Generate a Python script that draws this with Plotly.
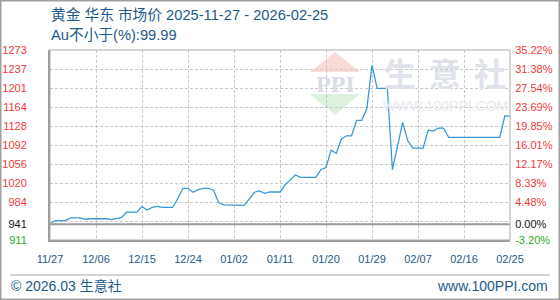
import plotly.graph_objects as go

# ---------------- data ----------------
dates = ["2025-11-27", "2025-11-28", "2025-11-30", "2025-12-01", "2025-12-03", "2025-12-04",
         "2025-12-05", "2025-12-08", "2025-12-09", "2025-12-10", "2025-12-11", "2025-12-12",
         "2025-12-14", "2025-12-15", "2025-12-16", "2025-12-17", "2025-12-18", "2025-12-19",
         "2025-12-21", "2025-12-22", "2025-12-23", "2025-12-24", "2025-12-25", "2025-12-26",
         "2025-12-27", "2025-12-28", "2025-12-29", "2025-12-30", "2025-12-31", "2026-01-04",
         "2026-01-05", "2026-01-06", "2026-01-07", "2026-01-08", "2026-01-09", "2026-01-11",
         "2026-01-12", "2026-01-13", "2026-01-14", "2026-01-15", "2026-01-18", "2026-01-19",
         "2026-01-20", "2026-01-21", "2026-01-22", "2026-01-23", "2026-01-24", "2026-01-25",
         "2026-01-26", "2026-01-27", "2026-01-28", "2026-01-29", "2026-01-30", "2026-02-01",
         "2026-02-02", "2026-02-03", "2026-02-04", "2026-02-05", "2026-02-06", "2026-02-08",
         "2026-02-09", "2026-02-10", "2026-02-11", "2026-02-12", "2026-02-13", "2026-02-23",
         "2026-02-24", "2026-02-25"]
prices = [941.4, 948, 948, 953, 953, 950.5,
          951.5, 951.5, 950, 951.5, 954, 964,
          964, 974.5, 968, 973, 975, 973,
          973, 990, 1009.5, 1009.5, 1002, 1007,
          1009.5, 1009.5, 1006, 982, 978, 977,
          990, 1002, 1004.5, 1000, 1002.5, 1002.5,
          1016, 1025, 1035, 1030.5, 1030.5, 1045,
          1049, 1082, 1076, 1103, 1109.5, 1109.5,
          1139, 1139, 1162, 1244, 1200, 1200,
          1045, 1090, 1135, 1100, 1086, 1086,
          1120.5, 1118.5, 1124, 1124, 1106.5, 1106.5,
          1148, 1146.5]

x_tick_vals = ["2025-11-27", "2025-12-06", "2025-12-15", "2025-12-24", "2026-01-02", "2026-01-11",
               "2026-01-20", "2026-01-29", "2026-02-07", "2026-02-16", "2026-02-25"]
x_tick_text = ["11/27", "12/06", "12/15", "12/24", "01/02", "01/11",
               "01/20", "01/29", "02/07", "02/16", "02/25"]

y_tick_vals = [911, 941, 983.4, 1019.6, 1055.8, 1092, 1128.2, 1164.4, 1200.6, 1236.8, 1273]
y_tick_text = ["911", "941", "984", "1020", "1056", "1092", "1128", "1164", "1201", "1237", "1273"]
pct_tick_text = ["-3.20%", "0.00%", "4.48%", "8.33%", "12.17%", "16.01%", "19.85%",
                 "23.69%", "27.54%", "31.38%", "35.22%"]
y_grid_vals = [947.2, 983.4, 1019.6, 1055.8, 1092, 1128.2, 1164.4, 1200.6, 1236.8]
y_range = [911, 1273]
base_value = 941

title_text = "黄金 华东 市场价 2025-11-27 - 2026-02-25"
subtitle_text = "Au不小于(%):99.99"

# ---------------- styles ----------------
RED = "#f03a3a"
GREEN = "#2eaa2e"
NAVY = "#1d5a8a"
GRID = "#c9c9c9"
AXIS = "#9a9a9a"
TICKFONT = "Liberation Sans, Arial, sans-serif"
CJK = "Liberation Sans, Noto Sans CJK SC, sans-serif"


def color_label(t, v):
    if v == base_value:
        return f"<span style='color:#111111'>{t}</span>"
    if v < base_value:
        return f"<span style='color:{GREEN}'>{t}</span>"
    return t


left_text = [color_label(t, v) for t, v in zip(y_tick_text, y_tick_vals)]
right_text = [color_label(t, v) for t, v in zip(pct_tick_text, y_tick_vals)]

fig = go.Figure()
fig.add_trace(go.Scatter(x=dates, y=prices, mode="lines",
                         line=dict(color="#3b98d6", width=1.3),
                         hoverinfo="skip", showlegend=False))
fig.add_trace(go.Scatter(x=dates, y=prices, mode="lines", yaxis="y2",
                         line=dict(color="rgba(0,0,0,0)", width=0),
                         hoverinfo="skip", showlegend=False))

W, H = 560, 300
ML, MR, MT, MB = 50, 50, 50, 60
PW, PH = W - ML - MR, H - MT - MB


def px(xp):
    return (xp - ML) / PW


def py(yp):
    return (H - MB - yp) / PH


fig.update_layout(
    width=W, height=H,
    margin=dict(l=ML, r=MR, t=MT, b=MB, pad=0, autoexpand=False),
    paper_bgcolor="white", plot_bgcolor="white",
    showlegend=False,
    xaxis=dict(
        type="date", range=[dates[0], dates[-1]], automargin=False,
        tickmode="array", tickvals=x_tick_vals, ticktext=x_tick_text,
        showgrid=True, gridcolor=GRID, griddash="3px,2px", gridwidth=1,
        showline=True, linecolor=AXIS, linewidth=2,
        ticks="outside", ticklen=8, tickcolor="rgba(0,0,0,0)",
        tickfont=dict(family=TICKFONT, size=11, color=NAVY),
        zeroline=False, fixedrange=True,
    ),
    yaxis=dict(
        range=y_range, tickmode="array", tickvals=y_tick_vals, ticktext=left_text,
        showgrid=False, automargin=False,
        minor=dict(tickmode="array", tickvals=y_grid_vals, showgrid=True,
                   gridcolor=GRID, griddash="3px,2px", gridwidth=1, ticks=""),
        showline=True, linecolor=AXIS, linewidth=2,
        ticks="outside", ticklen=19, tickcolor="rgba(0,0,0,0)",
        tickfont=dict(family=TICKFONT, size=11, color=RED),
        zeroline=False, fixedrange=True,
    ),
    yaxis2=dict(
        range=y_range, overlaying="y", side="right", automargin=False,
        tickmode="array", tickvals=y_tick_vals, ticktext=right_text,
        showgrid=False, showline=False, zeroline=False,
        ticks="outside", ticklen=2, tickcolor="rgba(0,0,0,0)",
        tickfont=dict(family=TICKFONT, size=11, color=RED),
        fixedrange=True,
    ),
)

shapes = []
# watermark logo triangles
shapes.append(dict(type="path", xref="paper", yref="paper", layer="below",
                   path=f"M {px(310)} {py(72)} L {px(360)} {py(72)} L {px(335)} {py(52)} Z",
                   fillcolor="#f9dcd8", line=dict(width=0)))
shapes.append(dict(type="path", xref="paper", yref="paper", layer="below",
                   path=f"M {px(310)} {py(94)} L {px(360)} {py(94)} L {px(335)} {py(115)} Z",
                   fillcolor="#dcf1de", line=dict(width=0)))
# baseline at start value
shapes.append(dict(type="line", xref="paper", yref="y", x0=0, x1=1, y0=base_value, y1=base_value,
                   line=dict(color=AXIS, width=2)))
# plot box top/right
shapes.append(dict(type="rect", xref="paper", yref="paper", x0=0, x1=1, y0=0, y1=1,
                   line=dict(color="#aaaaaa", width=1)))
# footer separator
shapes.append(dict(type="line", xref="paper", yref="paper", x0=px(10), x1=px(550),
                   y0=py(275), y1=py(275), line=dict(color="#aaaaaa", width=1)))
# outer border
shapes.append(dict(type="rect", xref="paper", yref="paper", x0=px(0.75), x1=px(559.25),
                   y0=py(299.25), y1=py(0.75), line=dict(color="#a0a0a0", width=1.5)))
fig.update_layout(shapes=shapes)

ann = []
ann.append(dict(text=title_text, xref="paper", yref="paper", x=px(49), y=py(15),
                xanchor="left", yanchor="middle", showarrow=False,
                font=dict(family=CJK, size=14.7, color=NAVY)))
ann.append(dict(text=subtitle_text, xref="paper", yref="paper", x=px(49), y=py(35),
                xanchor="left", yanchor="middle", showarrow=False,
                font=dict(family=CJK, size=14.7, color=NAVY)))
ann.append(dict(text="© 2026.03 生意社", xref="paper", yref="paper", x=px(9), y=py(285.5),
                xanchor="left", yanchor="middle", showarrow=False,
                font=dict(family=CJK, size=14, color=NAVY)))
ann.append(dict(text="www.100PPI.com", xref="paper", yref="paper", x=px(550), y=py(285.5),
                xanchor="right", yanchor="middle", showarrow=False,
                font=dict(family=CJK, size=14, color=NAVY)))
# watermark text
for ch, cx in zip("生意社", [400, 445, 490]):
    ann.append(dict(text=ch, xref="paper", yref="paper", x=px(cx), y=py(72),
                    xanchor="center", yanchor="middle", showarrow=False,
                    font=dict(family="Noto Sans CJK SC", size=32, color="#e0e3ec", weight=700)))
ann.append(dict(text="WWW.100PPI.COM", xref="paper", yref="paper", x=px(445), y=py(106),
                xanchor="center", yanchor="middle", showarrow=False,
                font=dict(family=TICKFONT, size=14, color="#e8eaef")))
ann.append(dict(text="PPI", xref="paper", yref="paper", x=px(335), y=py(83.5),
                xanchor="center", yanchor="middle", showarrow=False,
                font=dict(family="Liberation Serif, serif", size=24, color="#d8dde9", weight=700)))
fig.update_layout(annotations=ann)

fig.write_html("out.html")
